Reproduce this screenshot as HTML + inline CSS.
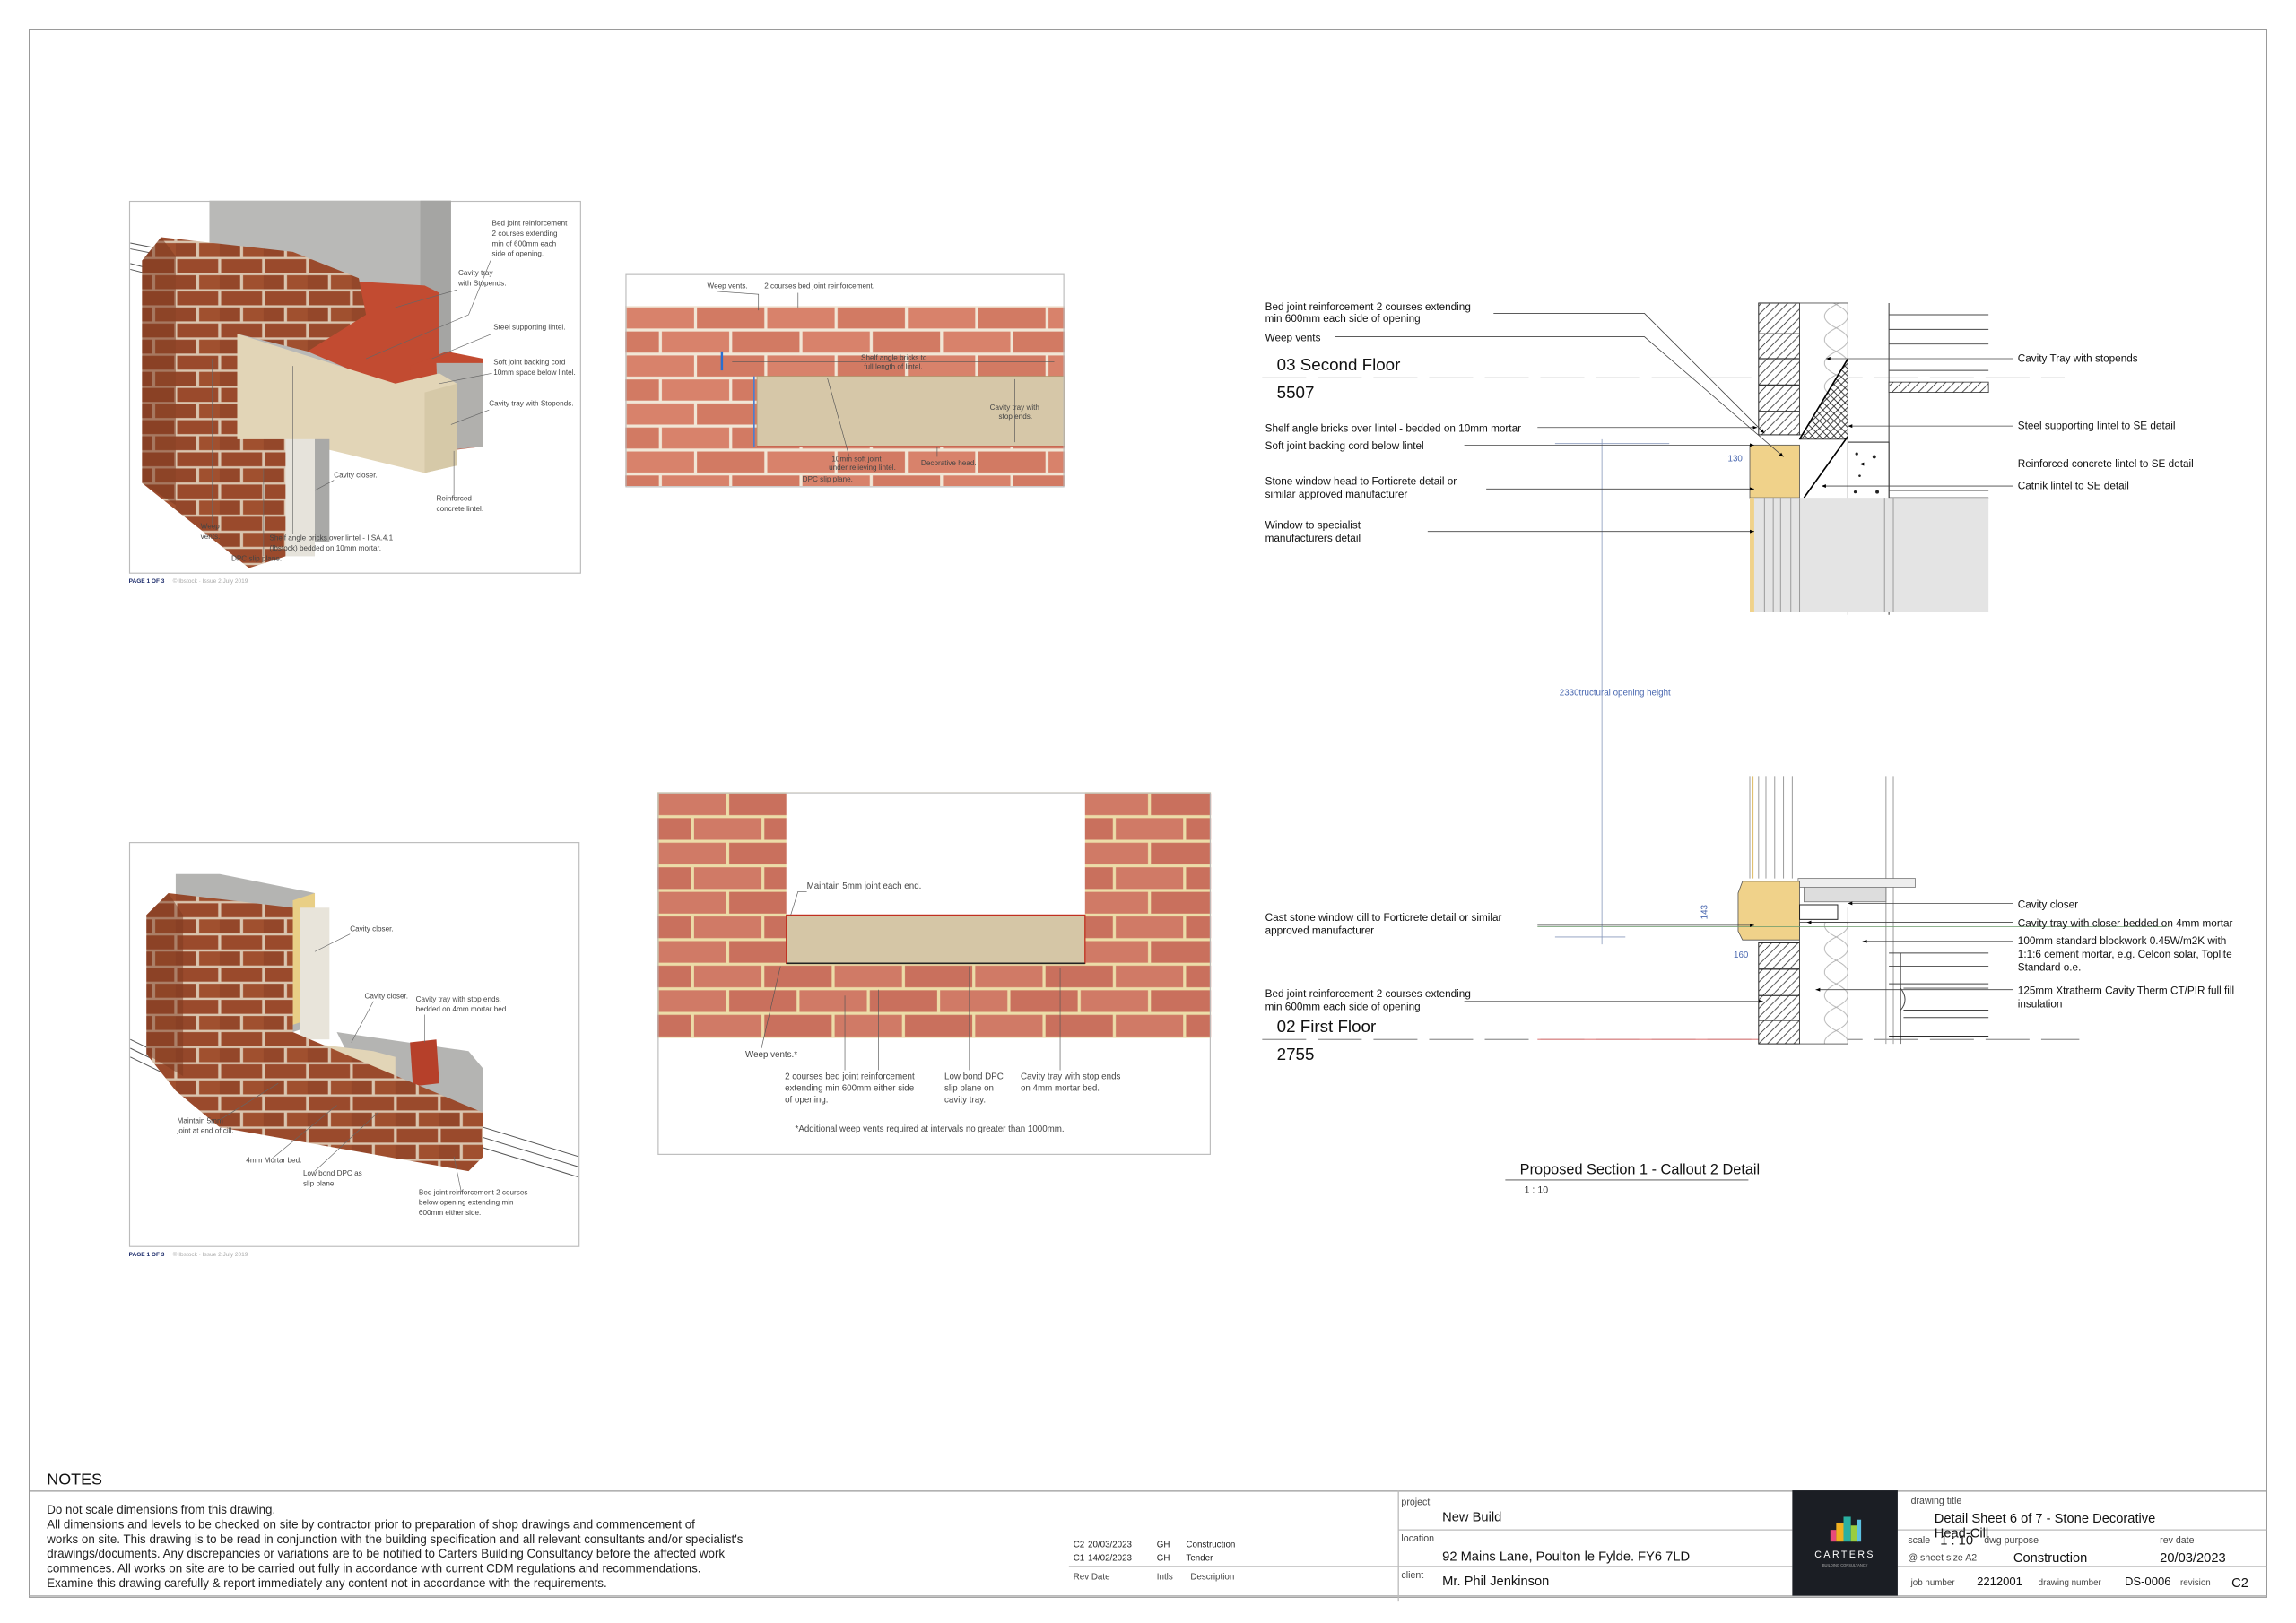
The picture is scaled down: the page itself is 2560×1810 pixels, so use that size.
<!DOCTYPE html>
<html><head><meta charset="utf-8"><style>
html,body{margin:0;padding:0;background:#fff;}
svg{display:block;}
text{font-family:"Liberation Sans",sans-serif;}
</style></head><body>
<svg width="2560" height="1810" viewBox="0 0 1568 1108.6" xmlns="http://www.w3.org/2000/svg">
<defs>
<pattern id="br1" patternUnits="userSpaceOnUse" x="427" y="209" width="96" height="32.8">
<rect width="96" height="32.8" fill="#f1e6d6"/>
<rect x="1" y="1" width="46" height="14.4" fill="#d8826b"/><rect x="49" y="1" width="46" height="14.4" fill="#d27a63"/>
<rect x="-23" y="17.4" width="46" height="14.4" fill="#d27a63"/><rect x="25" y="17.4" width="46" height="14.4" fill="#d8826b"/><rect x="73" y="17.4" width="46" height="14.4" fill="#d27a63"/>
</pattern>
<pattern id="br2" patternUnits="userSpaceOnUse" x="449" y="541" width="96" height="33.6">
<rect width="96" height="33.6" fill="#ecdca8"/>
<rect x="1" y="1" width="46" height="14.8" fill="#d07a66"/><rect x="49" y="1" width="46" height="14.8" fill="#c9705d"/>
<rect x="-23" y="17.8" width="46" height="14.8" fill="#c9705d"/><rect x="25" y="17.8" width="46" height="14.8" fill="#d07a66"/><rect x="73" y="17.8" width="46" height="14.8" fill="#c9705d"/>
</pattern>
<pattern id="br3" patternUnits="userSpaceOnUse" width="30" height="22">
<rect width="30" height="22" fill="#d9c4ae"/>
<rect x="1" y="1" width="28" height="9.5" fill="#9a4a2c"/>
<rect x="-14" y="12" width="28" height="9.5" fill="#94472a"/><rect x="16" y="12" width="28" height="9.5" fill="#a0502f"/>
</pattern>
<pattern id="hatch" patternUnits="userSpaceOnUse" width="6" height="6">
<rect width="6" height="6" fill="#fff"/><path d="M0,6 L6,0" stroke="#333" stroke-width="0.5"/>
</pattern>
<pattern id="xh" patternUnits="userSpaceOnUse" width="5" height="5">
<rect width="5" height="5" fill="#fff"/><path d="M0,5 L5,0 M0,0 L5,5" stroke="#222" stroke-width="0.5"/>
</pattern>
<pattern id="ins" patternUnits="userSpaceOnUse" width="33" height="16">
<rect width="33" height="16" fill="#fff"/><path d="M0,0 Q16,8 0,16 M33,0 Q17,8 33,16" stroke="#aaa" fill="none" stroke-width="0.5"/>
</pattern>
<marker id="ah" viewBox="0 0 10 10" refX="10" refY="5" markerWidth="6" markerHeight="6" orient="auto"><path d="M0,1 L10,5 L0,9z" fill="#000"/></marker>
</defs>

<rect x="20" y="20" width="1528" height="1071" fill="none" stroke="#999" stroke-width="0.8"/>

<!-- Panel 1 -->
<rect x="88.5" y="137.5" width="308" height="254" fill="#fff" stroke="#bbb" stroke-width="0.7"/>
<g stroke="#555" stroke-width="0.6"><line x1="89" y1="166" x2="140" y2="176"/><line x1="89" y1="170" x2="140" y2="180"/><line x1="89" y1="180" x2="120" y2="188"/><line x1="89" y1="184" x2="120" y2="192"/></g>
<rect x="143" y="137" width="165" height="115" fill="#b9b9b7"/>
<polygon points="287,137 308,137 308,250 287,258" fill="#a5a5a3"/>
<polygon points="205,190 290,195 300,200 300,255 280,270 210,240" fill="#c24b31"/>
<polygon points="280,250 305,240 330,245 330,305 305,308 285,320" fill="#c24b31"/>
<polygon points="298,248 330,248 330,305 300,308" fill="#b1b0ad"/>
<polygon points="162,228 270,262 300,255 312,262 312,318 290,323 195,300 162,300" fill="#e2d5b7"/>
<polygon points="290,268 312,262 312,318 290,323" fill="#d6c9a8"/>
<rect x="195" y="300" width="20" height="80" fill="#e6e3db"/>
<rect x="215" y="300" width="10" height="70" fill="#a9a9a7"/>
<polygon points="97,178 110,162 200,172 245,190 250,215 210,240 162,228 162,300 195,300 195,380 170,388 97,330" fill="url(#br3)"/>
<polygon points="97,178 110,162 120,175 120,345 97,330" fill="#7e3a20" opacity="0.55"/>
<g font-size="5" fill="#444">
<text x="336" y="154">Bed joint reinforcement</text><text x="336" y="161">2 courses extending</text><text x="336" y="168">min of 600mm each</text><text x="336" y="175">side of opening.</text>
<text x="313" y="188">Cavity tray</text><text x="313" y="195">with Stopends.</text>
<text x="337" y="225">Steel supporting lintel.</text>
<text x="337" y="249">Soft joint backing cord</text><text x="337" y="256">10mm space below lintel.</text>
<text x="334" y="277">Cavity tray with Stopends.</text>
<text x="228" y="326">Cavity closer.</text>
<text x="298" y="342">Reinforced</text><text x="298" y="349">concrete lintel.</text>
<text x="137" y="361">Weep</text><text x="137" y="368">vents.</text>
<text x="184" y="369">Shelf angle bricks over lintel - I.SA.4.1</text><text x="184" y="376">(Ibstock) bedded on 10mm mortar.</text>
<text x="158" y="383">DPC slip plane.</text>
</g>
<g stroke="#666" stroke-width="0.4" fill="none"><polyline points="335,178 320,215 250,245"/><line x1="312" y1="198" x2="270" y2="210"/><line x1="336" y1="228" x2="295" y2="245"/><line x1="336" y1="255" x2="300" y2="262"/><line x1="334" y1="280" x2="308" y2="290"/><line x1="310" y1="340" x2="310" y2="308"/><line x1="145" y1="358" x2="145" y2="245"/><line x1="180" y1="380" x2="180" y2="320"/><line x1="200" y1="365" x2="200" y2="250"/><line x1="228" y1="328" x2="215" y2="335"/></g>
<text x="88" y="398" font-size="4" fill="#1a2a6a" font-weight="bold">PAGE 1 OF 3</text><text x="118" y="398" font-size="4" fill="#aaa">© Ibstock · Issue 2 July 2019</text>

<!-- Panel 2 -->
<rect x="427" y="209" width="300" height="123" fill="url(#br1)"/>
<rect x="517" y="257" width="210" height="48" fill="#d6c7a8" stroke="#b09870" stroke-width="0.5"/>
<line x1="515" y1="257" x2="515" y2="305" stroke="#4a7fd0" stroke-width="1"/>
<line x1="517" y1="305" x2="727" y2="305" stroke="#c03020" stroke-width="0.7"/>
<line x1="493" y1="240" x2="493" y2="253" stroke="#2a6fd0" stroke-width="1.5"/>
<rect x="427.5" y="187.5" width="299" height="145" fill="none" stroke="#bbb" stroke-width="0.7"/>
<g font-size="5" fill="#444">
<text x="483" y="197">Weep vents.</text><text x="522" y="197">2 courses bed joint reinforcement.</text>
<text x="588" y="246">Shelf angle bricks to</text><text x="590" y="252">full length of lintel.</text>
<text x="676" y="280">Cavity tray with</text><text x="682" y="286">stop ends.</text>
<text x="568" y="315">10mm soft joint</text><text x="566" y="321">under relieving lintel.</text>
<text x="629" y="318">Decorative head.</text><text x="548" y="329">DPC slip plane.</text>
</g>
<g stroke="#555" stroke-width="0.4" fill="none"><polyline points="490,199 518,201 518,212"/><line x1="545" y1="200" x2="545" y2="210"/><line x1="565" y1="258" x2="580" y2="312"/><line x1="640" y1="305" x2="640" y2="312"/><line x1="693" y1="259" x2="693" y2="302"/><line x1="500" y1="247" x2="720" y2="247"/></g>

<!-- Panel 3 -->
<rect x="88.5" y="575.5" width="307" height="276" fill="#fff" stroke="#bbb" stroke-width="0.7"/>
<g stroke="#555" stroke-width="0.6"><line x1="89" y1="710" x2="130" y2="730"/><line x1="89" y1="716" x2="130" y2="736"/><line x1="89" y1="722" x2="130" y2="742"/><line x1="330" y1="770" x2="395" y2="790"/><line x1="330" y1="777" x2="395" y2="797"/><line x1="330" y1="784" x2="395" y2="804"/></g>
<polygon points="120,597 150,597 215,610 215,700 200,705 120,680" fill="#b4b4b2"/>
<polygon points="200,615 215,610 215,695 200,700" fill="#e9cf86"/>
<rect x="205" y="620" width="20" height="90" fill="#e8e4da"/>
<polygon points="230,705 320,718 330,730 330,760 250,745" fill="#b4b4b2"/>
<polygon points="190,710 255,718 270,722 270,740 255,748 190,735" fill="#e2d5b7"/>
<polygon points="280,712 298,710 300,740 282,742" fill="#b6402a"/>
<polygon points="100,625 115,610 200,620 200,705 330,760 330,790 320,800 150,770 120,745 100,720" fill="url(#br3)"/>
<polygon points="100,625 115,610 125,625 125,735 100,720" fill="#7e3a20" opacity="0.5"/>
<g font-size="5" fill="#444">
<text x="239" y="636">Cavity closer.</text><text x="249" y="682">Cavity closer.</text>
<text x="284" y="684">Cavity tray with stop ends,</text><text x="284" y="691">bedded on 4mm mortar bed.</text>
<text x="121" y="767">Maintain 5mm</text><text x="121" y="774">joint at end of cill.</text>
<text x="168" y="794">4mm Mortar bed.</text>
<text x="207" y="803">Low bond DPC as</text><text x="207" y="810">slip plane.</text>
<text x="286" y="816">Bed joint reinforcement 2 courses</text><text x="286" y="823">below opening extending min</text><text x="286" y="830">600mm either side.</text>
</g>
<g stroke="#666" stroke-width="0.4" fill="none"><line x1="239" y1="638" x2="215" y2="650"/><line x1="255" y1="684" x2="240" y2="712"/><line x1="290" y1="693" x2="290" y2="712"/><line x1="150" y1="765" x2="190" y2="740"/><line x1="185" y1="792" x2="230" y2="755"/><line x1="215" y1="800" x2="258" y2="760"/><line x1="315" y1="814" x2="310" y2="790"/></g>
<text x="88" y="858" font-size="4" fill="#1a2a6a" font-weight="bold">PAGE 1 OF 3</text><text x="118" y="858" font-size="4" fill="#aaa">© Ibstock · Issue 2 July 2019</text>

<!-- Panel 4 -->
<rect x="449" y="541" width="378" height="168" fill="url(#br2)"/>
<rect x="537" y="541" width="204" height="84" fill="#fff"/>
<rect x="537" y="625" width="204" height="33" fill="#d5c6a6" stroke="#c03020" stroke-width="0.8"/>
<line x1="537" y1="658" x2="741" y2="658" stroke="#222" stroke-width="1"/>
<rect x="449.5" y="541.5" width="377" height="247" fill="none" stroke="#bbb" stroke-width="0.7"/>
<g font-size="6" fill="#444">
<text x="551" y="607">Maintain 5mm joint each end.</text>
<text x="509" y="722">Weep vents.*</text>
<text x="536" y="737">2 courses bed joint reinforcement</text><text x="536" y="745">extending min 600mm either side</text><text x="536" y="753">of opening.</text>
<text x="645" y="737">Low bond DPC</text><text x="645" y="745">slip plane on</text><text x="645" y="753">cavity tray.</text>
<text x="697" y="737">Cavity tray with stop ends</text><text x="697" y="745">on 4mm mortar bed.</text>
<text x="543" y="773">*Additional weep vents required at intervals no greater than 1000mm.</text>
</g>
<g stroke="#555" stroke-width="0.4" fill="none"><polyline points="551,609 545,609 540,625"/><line x1="520" y1="716" x2="533" y2="660"/><line x1="577" y1="731" x2="577" y2="680"/><line x1="600" y1="731" x2="600" y2="676"/><line x1="662" y1="731" x2="662" y2="660"/><line x1="724" y1="731" x2="724" y2="661"/></g>

<!-- Right section -->
<g stroke="#666" stroke-width="0.5" stroke-dasharray="30,8">
<line x1="862" y1="258" x2="1410" y2="258"/><line x1="862" y1="710" x2="1420" y2="710"/>
</g>
<line x1="1050" y1="710" x2="1205" y2="710" stroke="#e08080" stroke-width="0.7"/>
<text x="872" y="253" font-size="11.5" fill="#111">03 Second Floor</text>
<text x="872" y="272" font-size="11.5" fill="#111">5507</text>
<text x="872" y="705" font-size="11.5" fill="#111">02 First Floor</text>
<text x="872" y="724" font-size="11.5" fill="#111">2755</text>

<rect x="1201" y="207" width="28" height="90" fill="url(#hatch)" stroke="#222" stroke-width="0.6"/>
<g stroke="#333" stroke-width="0.8"><line x1="1201" y1="228" x2="1229" y2="228"/><line x1="1201" y1="245" x2="1229" y2="245"/><line x1="1201" y1="263" x2="1229" y2="263"/><line x1="1201" y1="281" x2="1229" y2="281"/></g>
<rect x="1229" y="207" width="33" height="90" fill="url(#ins)" stroke="#444" stroke-width="0.5"/>
<polygon points="1229,300 1262,245 1262,300" fill="url(#xh)" stroke="#222" stroke-width="0.6"/>
<line x1="1229" y1="300" x2="1262" y2="245" stroke="#000" stroke-width="1"/>
<line x1="1262" y1="207" x2="1262" y2="420" stroke="#333" stroke-width="0.6"/>
<line x1="1290" y1="207" x2="1290" y2="420" stroke="#333" stroke-width="0.6"/>
<rect x="1262" y="302" width="28" height="40" fill="#fff" stroke="#222" stroke-width="0.6"/>
<g fill="#222"><circle cx="1268" cy="310" r="1"/><circle cx="1280" cy="312" r="1.2"/><circle cx="1270" cy="325" r="0.8"/><circle cx="1282" cy="336" r="1.2"/><circle cx="1267" cy="336" r="1"/></g>
<g stroke="#444" stroke-width="0.6"><line x1="1290" y1="215" x2="1358" y2="215"/><line x1="1290" y1="225" x2="1358" y2="225"/><line x1="1290" y1="235" x2="1358" y2="235"/><line x1="1290" y1="253" x2="1358" y2="253"/><line x1="1290" y1="335" x2="1358" y2="335"/><line x1="1290" y1="340" x2="1358" y2="340"/></g>
<rect x="1290" y="261" width="68" height="7" fill="url(#hatch)" stroke="#333" stroke-width="0.5"/>
<line x1="1262" y1="298" x2="1232" y2="340" stroke="#000" stroke-width="1"/>
<rect x="1195" y="304" width="34" height="36" fill="#f0d28a" stroke="#555" stroke-width="0.5"/>
<rect x="1195" y="340" width="163" height="78" fill="#e4e4e4"/>
<rect x="1195" y="340" width="3" height="78" fill="#f0d28a"/>
<g stroke="#999" stroke-width="0.6" fill="none"><line x1="1205" y1="340" x2="1205" y2="418"/><line x1="1211" y1="340" x2="1211" y2="418"/><line x1="1216" y1="340" x2="1216" y2="418"/><line x1="1223" y1="340" x2="1223" y2="418"/><line x1="1229" y1="340" x2="1229" y2="418"/><line x1="1287" y1="340" x2="1287" y2="418"/><line x1="1293" y1="340" x2="1293" y2="418"/></g>
<text x="1180" y="315" font-size="6" fill="#4a68b0">130</text>

<g stroke="#999" stroke-width="0.6"><line x1="1195" y1="530" x2="1195" y2="600"/><line x1="1201" y1="530" x2="1201" y2="600"/><line x1="1206" y1="530" x2="1206" y2="600"/><line x1="1212" y1="530" x2="1212" y2="600"/><line x1="1218" y1="530" x2="1218" y2="600"/><line x1="1224" y1="530" x2="1224" y2="600"/><line x1="1288" y1="530" x2="1288" y2="713"/><line x1="1293" y1="530" x2="1293" y2="713"/></g>
<line x1="1197" y1="530" x2="1197" y2="600" stroke="#e0c070" stroke-width="1"/>
<rect x="1228" y="600" width="80" height="6" fill="#eee" stroke="#777" stroke-width="0.5"/>
<rect x="1232" y="606" width="56" height="10" fill="#ddd" stroke="#777" stroke-width="0.5"/>
<polygon points="1190,602 1229,602 1229,642 1190,642 1187,636 1187,610" fill="#f0d28a" stroke="#555" stroke-width="0.5"/>
<rect x="1229" y="618" width="26" height="10" fill="#fff" stroke="#222" stroke-width="0.6"/>
<rect x="1201" y="644" width="28" height="69" fill="url(#hatch)" stroke="#222" stroke-width="0.6"/>
<g stroke="#333" stroke-width="0.8"><line x1="1201" y1="662" x2="1229" y2="662"/><line x1="1201" y1="680" x2="1229" y2="680"/><line x1="1201" y1="697" x2="1229" y2="697"/></g>
<rect x="1229" y="630" width="33" height="83" fill="url(#ins)" stroke="#444" stroke-width="0.5"/>
<line x1="1262" y1="620" x2="1262" y2="713" stroke="#333" stroke-width="0.6"/>
<g stroke="#444" stroke-width="0.6" fill="none"><line x1="1290" y1="651" x2="1358" y2="651"/><line x1="1290" y1="660" x2="1358" y2="660"/><line x1="1290" y1="672" x2="1358" y2="672"/><line x1="1300" y1="675" x2="1358" y2="675"/><line x1="1300" y1="690" x2="1358" y2="690"/><line x1="1300" y1="695" x2="1358" y2="695"/><line x1="1298" y1="651" x2="1298" y2="713"/><path d="M1298,675 q6,8 0,15"/></g>
<line x1="1290" y1="708" x2="1358" y2="708" stroke="#111" stroke-width="1"/>
<line x1="1050" y1="633" x2="1480" y2="633" stroke="#6a9a6a" stroke-width="0.5"/>
<text x="1166" y="628" font-size="6" fill="#4a68b0" transform="rotate(-90 1166 628)">143</text>
<text x="1184" y="654" font-size="6" fill="#4a68b0">160</text>

<g stroke="#8899bb" stroke-width="0.5"><line x1="1066" y1="300" x2="1066" y2="645"/><line x1="1094" y1="300" x2="1094" y2="645"/><line x1="1062" y1="303" x2="1140" y2="303"/><line x1="1062" y1="640" x2="1110" y2="640"/></g>
<text x="1065" y="475" font-size="6" fill="#4a68b0">2330tructural opening height</text>

<g font-size="7.2" fill="#111">
<text x="864" y="212">Bed joint reinforcement 2 courses extending</text><text x="864" y="220">min 600mm each side of opening</text>
<text x="864" y="233">Weep vents</text>
<text x="864" y="295">Shelf angle bricks over lintel - bedded on 10mm mortar</text>
<text x="864" y="307">Soft joint backing cord below lintel</text>
<text x="864" y="331">Stone window head to Forticrete detail or</text><text x="864" y="340">similar approved manufacturer</text>
<text x="864" y="361">Window to specialist</text><text x="864" y="370">manufacturers detail</text>
<text x="864" y="629">Cast stone window cill to Forticrete detail or similar</text><text x="864" y="638">approved manufacturer</text>
<text x="864" y="681">Bed joint reinforcement 2 courses extending</text><text x="864" y="690">min 600mm each side of opening</text>
<text x="1378" y="247">Cavity Tray with stopends</text>
<text x="1378" y="293">Steel supporting lintel to SE detail</text>
<text x="1378" y="319">Reinforced concrete lintel to SE detail</text>
<text x="1378" y="334">Catnik lintel to SE detail</text>
<text x="1378" y="620">Cavity closer</text>
<text x="1378" y="633">Cavity tray with closer bedded on 4mm mortar</text>
<text x="1378" y="645">100mm standard blockwork 0.45W/m2K with</text><text x="1378" y="654">1:1:6 cement mortar, e.g. Celcon solar, Toplite</text><text x="1378" y="663">Standard o.e.</text>
<text x="1378" y="679">125mm Xtratherm Cavity Therm CT/PIR full fill</text><text x="1378" y="688">insulation</text>
</g>
<g stroke="#444" stroke-width="0.5" fill="none" marker-end="url(#ah)">
<polyline points="1020,214 1123,214 1205,296"/>
<polyline points="912,230 1123,230 1218,312"/>
<line x1="1050" y1="292" x2="1200" y2="292"/>
<line x1="1000" y1="304" x2="1198" y2="304"/>
<line x1="1015" y1="334" x2="1198" y2="334"/>
<line x1="975" y1="363" x2="1198" y2="363"/>
<line x1="1375" y1="245" x2="1247" y2="245"/>
<line x1="1375" y1="291" x2="1262" y2="291"/>
<line x1="1375" y1="317" x2="1270" y2="317"/>
<line x1="1375" y1="332" x2="1244" y2="332"/>
<line x1="1050" y1="632" x2="1198" y2="632"/>
<line x1="1000" y1="684" x2="1204" y2="684"/>
<line x1="1375" y1="617" x2="1262" y2="617"/>
<line x1="1375" y1="630" x2="1234" y2="630"/>
<line x1="1375" y1="643" x2="1272" y2="643"/>
<line x1="1375" y1="676" x2="1240" y2="676"/>
</g>

<text x="1038" y="802" font-size="10" fill="#111">Proposed Section 1 - Callout 2 Detail</text>
<line x1="1028" y1="806" x2="1194" y2="806" stroke="#444" stroke-width="0.5"/>
<text x="1041" y="815" font-size="6.5" fill="#333">1 : 10</text>

<!-- NOTES / title block -->
<text x="32" y="1014" font-size="11" fill="#111">NOTES</text>
<line x1="20" y1="1018.5" x2="1548" y2="1018.5" stroke="#999" stroke-width="0.8"/>
<g font-size="8.2" fill="#222">
<text x="32" y="1034">Do not scale dimensions from this drawing.</text>
<text x="32" y="1044">All dimensions and levels to be checked on site by contractor prior to preparation of shop drawings and commencement of</text>
<text x="32" y="1054">works on site. This drawing is to be read in conjunction with the building specification and all relevant consultants and/or specialist's</text>
<text x="32" y="1064">drawings/documents. Any discrepancies or variations are to be notified to Carters Building Consultancy before the affected work</text>
<text x="32" y="1074">commences. All works on site are to be carried out fully in accordance with current CDM regulations and recommendations.</text>
<text x="32" y="1084">Examine this drawing carefully &amp; report immediately any content not in accordance with the requirements.</text>
</g>
<g font-size="6" fill="#222">
<text x="733" y="1057">C2</text><text x="743" y="1057">20/03/2023</text><text x="790" y="1057">GH</text><text x="810" y="1057">Construction</text>
<text x="733" y="1066">C1</text><text x="743" y="1066">14/02/2023</text><text x="790" y="1066">GH</text><text x="810" y="1066">Tender</text>
<text x="733" y="1079" fill="#444">Rev Date</text><text x="790" y="1079" fill="#444">Intls</text><text x="813" y="1079" fill="#444">Description</text>
</g>
<line x1="730" y1="1070" x2="955" y2="1070" stroke="#bbb" stroke-width="0.8"/>
<g stroke="#bbb" stroke-width="0.8">
<line x1="955" y1="1018" x2="955" y2="1094"/>
<line x1="955" y1="1045" x2="1224" y2="1045"/><line x1="955" y1="1070" x2="1224" y2="1070"/>
<line x1="1296" y1="1045" x2="1548" y2="1045"/><line x1="1296" y1="1070" x2="1548" y2="1070"/>
<line x1="20" y1="1090" x2="1548" y2="1090"/>
</g>
<rect x="1224" y="1018" width="72" height="72" fill="#1b1e24"/>
<g><rect x="1250" y="1045" width="4" height="8" fill="#e84a7a"/><rect x="1254" y="1040" width="5" height="13" fill="#f0b020"/><rect x="1259" y="1036" width="5" height="17" fill="#2ab0a0"/><rect x="1264" y="1042" width="5" height="11" fill="#9acd40"/><rect x="1268" y="1038" width="3" height="15" fill="#5cc0e0"/></g>
<text x="1260" y="1064" font-size="6.5" fill="#fff" text-anchor="middle" letter-spacing="1.5">CARTERS</text>
<text x="1260" y="1070" font-size="2.5" fill="#aaa" text-anchor="middle">BUILDING CONSULTANCY</text>
<g fill="#444" font-size="6.5">
<text x="957" y="1028">project</text><text x="957" y="1053">location</text><text x="957" y="1078">client</text>
<text x="1305" y="1027">drawing title</text><text x="1303" y="1054">scale</text><text x="1355" y="1054">dwg purpose</text><text x="1475" y="1054">rev date</text>
<text x="1303" y="1066">@ sheet size A2</text>
</g>
<g fill="#444" font-size="6">
<text x="1305" y="1083">job number</text><text x="1392" y="1083">drawing number</text><text x="1489" y="1083">revision</text>
</g>
<g fill="#111" font-size="9">
<text x="985" y="1039">New Build</text>
<text x="985" y="1066">92 Mains Lane, Poulton le Fylde. FY6 7LD</text>
<text x="985" y="1083">Mr. Phil Jenkinson</text>
<text x="1321" y="1040">Detail Sheet 6 of 7 - Stone Decorative</text>
<text x="1321" y="1050">Head-Cill</text>
<text x="1325" y="1055">1 : 10</text>
<text x="1375" y="1067">Construction</text>
<text x="1475" y="1067">20/03/2023</text>
</g>
<g fill="#111" font-size="8">
<text x="1350" y="1083">2212001</text>
<text x="1451" y="1083">DS-0006</text>
</g>
<text x="1524" y="1084" font-size="9" fill="#111">C2</text>
</svg>
</body></html>
